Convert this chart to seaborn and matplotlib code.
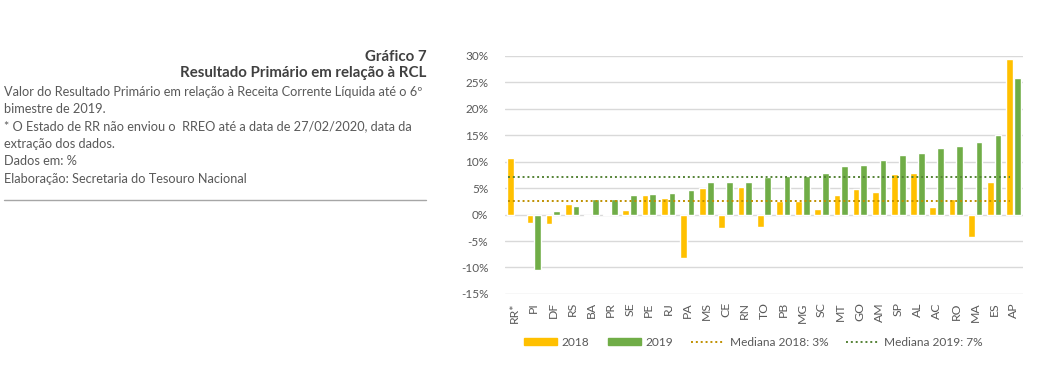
import numpy as np
import pandas as pd
import matplotlib
matplotlib.use("Agg")
import matplotlib.pyplot as plt
import seaborn as sns
from matplotlib.lines import Line2D
from matplotlib.patches import Patch

# dados (% da RCL)
estados = ["RR*", "PI", "DF", "RS", "BA", "PR", "SE", "PE", "RJ", "PA", "MS", "CE", "RN", "TO",
           "PB", "MG", "SC", "MT", "GO", "AM", "SP", "AL", "AC", "RO", "MA", "ES", "AP"]
v2018 = [10.7, -1.6, -1.7, 2.0, -0.2, 0.05, 0.9, 3.7, 3.2, -8.3, 5.1, -2.6, 5.2, -2.3,
         2.5, 2.5, 1.1, 3.7, 4.8, 4.2, 7.7, 7.8, 1.5, 2.9, -4.2, 6.1, 29.5]
v2019 = [np.nan, -10.4, 0.7, 1.6, 2.9, 2.9, 3.7, 3.9, 4.0, 4.6, 6.1, 6.2, 6.2, 7.1,
         7.3, 7.3, 7.9, 9.2, 9.4, 10.4, 11.3, 11.6, 12.6, 12.9, 13.8, 15.1, 25.9]
mediana_2018 = 2.5
mediana_2019 = 7.2

cor18 = "#FFC000"
cor19 = "#70AD47"
cinza = "#595959"

df = pd.DataFrame({
    "UF": estados * 2,
    "ano": ["2018"] * len(estados) + ["2019"] * len(estados),
    "valor": v2018 + v2019,
})

sns.set_style("white")
plt.rcParams["font.family"] = ["Lato", "DejaVu Sans"]

fig = plt.figure(figsize=(10.42, 3.66), dpi=100)
ax = fig.add_axes([0.4846, 0.197, 0.4972, 0.65])

sns.barplot(data=df, x="UF", y="valor", hue="ano", palette=[cor18, cor19],
            width=0.8, gap=0.12, saturation=1, ax=ax, legend=False)

ax.axhline(mediana_2018, color="#BF9000", ls=(0, (1, 1.5)), lw=1.4, xmin=0.005, xmax=0.975)
ax.axhline(mediana_2019, color="#548235", ls=(0, (1, 1.5)), lw=1.4, xmin=0.005, xmax=0.975)

ax.set_ylim(-15, 30)
ax.set_xlim(-0.5, len(estados) - 0.5)
ax.set_yticks(range(-15, 31, 5))
ax.set_yticklabels([f"{t}%" for t in range(-15, 31, 5)], color=cinza, fontsize=8.5)
ax.tick_params(axis="x", labelrotation=90, labelsize=8.8, colors=cinza, length=0, pad=6)
ax.tick_params(axis="y", length=0, pad=12)
ax.yaxis.grid(True, color="#D9D9D9", lw=1)
ax.set_axisbelow(True)
ax.set_xlabel("")
ax.set_ylabel("")
for s in ax.spines.values():
    s.set_visible(False)

handles = [
    Patch(color=cor18, label="2018"),
    Patch(color=cor19, label="2019"),
    Line2D([], [], color="#BF9000", ls=(0, (1, 1.5)), lw=1.4, label="Mediana 2018: 3%"),
    Line2D([], [], color="#548235", ls=(0, (1, 1.5)), lw=1.4, label="Mediana 2019: 7%"),
]
leg = fig.legend(handles=handles, loc="center", bbox_to_anchor=(0.723, 0.065), ncol=4,
                 frameon=False, fontsize=8.6, handlelength=2.8, handleheight=0.55,
                 columnspacing=1.5, handletextpad=0.4)
for t in leg.get_texts():
    t.set_color(cinza)

# bloco de texto à esquerda
fig.text(0.409, 0.845, "Gráfico 7", ha="right", va="center", fontsize=10.8,
         fontweight="bold", color="#404040")
fig.text(0.409, 0.800, "Resultado Primário em relação à RCL", ha="right", va="center",
         fontsize=10.8, fontweight="bold", color="#404040")
linhas = [
    "Valor do Resultado Primário em relação à Receita Corrente Líquida até o 6º",
    "bimestre de 2019.",
    "* O Estado de RR não enviou o  RREO até a data de 27/02/2020, data da",
    "extração dos dados.",
    "Dados em: %",
    "Elaboração: Secretaria do Tesouro Nacional",
]
y0 = 0.749
for i, l in enumerate(linhas):
    fig.text(0.004, y0 - i * 0.0475, l, ha="left", va="center", fontsize=9.2, color=cinza)
fig.add_artist(Line2D([0.004, 0.409], [0.453, 0.453], color="#A6A6A6", lw=1))

fig.savefig("out.png", dpi=100)
